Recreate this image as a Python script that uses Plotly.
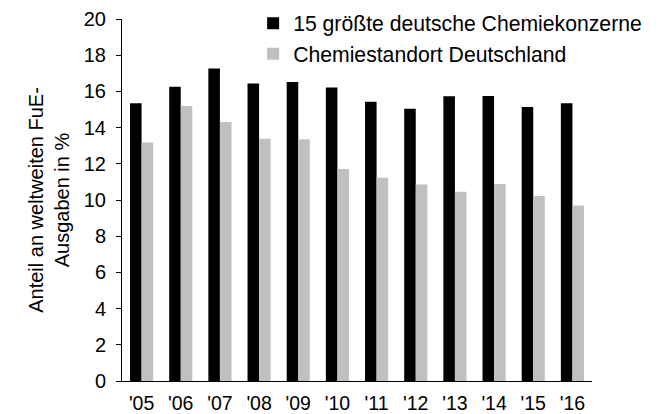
import plotly.graph_objects as go

years = ["'05", "'06", "'07", "'08", "'09", "'10", "'11", "'12", "'13", "'14", "'15", "'16"]
konzerne = [15.34, 16.26, 17.27, 16.44, 16.52, 16.22, 15.43, 15.04, 15.73, 15.75, 15.14, 15.34]
standort = [13.18, 15.19, 14.31, 13.39, 13.35, 11.71, 11.23, 10.86, 10.46, 10.88, 10.22, 9.70]
y_ticks = [0, 2, 4, 6, 8, 10, 12, 14, 16, 18, 20]

FONT = "Liberation Sans, Arial, sans-serif"

fig = go.Figure()
fig.add_trace(go.Bar(x=years, y=konzerne, name="15 größte deutsche Chemiekonzerne",
                     marker=dict(color="#000000", line=dict(width=0)), legendgroup="a"))
fig.add_trace(go.Bar(x=years, y=standort, name="Chemiestandort Deutschland",
                     marker=dict(color="#c0c0c0", line=dict(width=0)), legendgroup="b"))

fig.update_layout(
    width=669, height=414,
    margin=dict(l=122, r=77, t=19, b=33, autoexpand=False),
    paper_bgcolor="white", plot_bgcolor="white",
    font=dict(family=FONT, size=20, color="#000000"),
    barmode="group", bargap=0.41, bargroupgap=0,
    showlegend=True,
    legend=dict(x=0.279, y=0.993, xanchor="left", yanchor="top", yref="container",
                bgcolor="rgba(0,0,0,0)", font=dict(size=21.2),
                traceorder="grouped", tracegroupgap=0),
    xaxis=dict(showline=True, linecolor="#000000", linewidth=1, ticks="",
               showgrid=False, tickfont=dict(size=19.5), ticklabelstandoff=5,
               automargin=False),
    yaxis=dict(range=[0, 20], tickvals=y_ticks, showline=True, linecolor="#000000",
               linewidth=1, ticks="outside", ticklen=5, tickcolor="#000000",
               showgrid=False, zeroline=False, tickfont=dict(size=20),
               ticklabelstandoff=6, automargin=False,
               title=dict(text="Anteil an weltweiten FuE-<br>Ausgaben in %",
                          font=dict(size=20), standoff=8)),
)

fig.write_html("out.html", config={"displayModeBar": False},
               post_script="document.body.style.margin='0';document.body.style.overflow='hidden';")
